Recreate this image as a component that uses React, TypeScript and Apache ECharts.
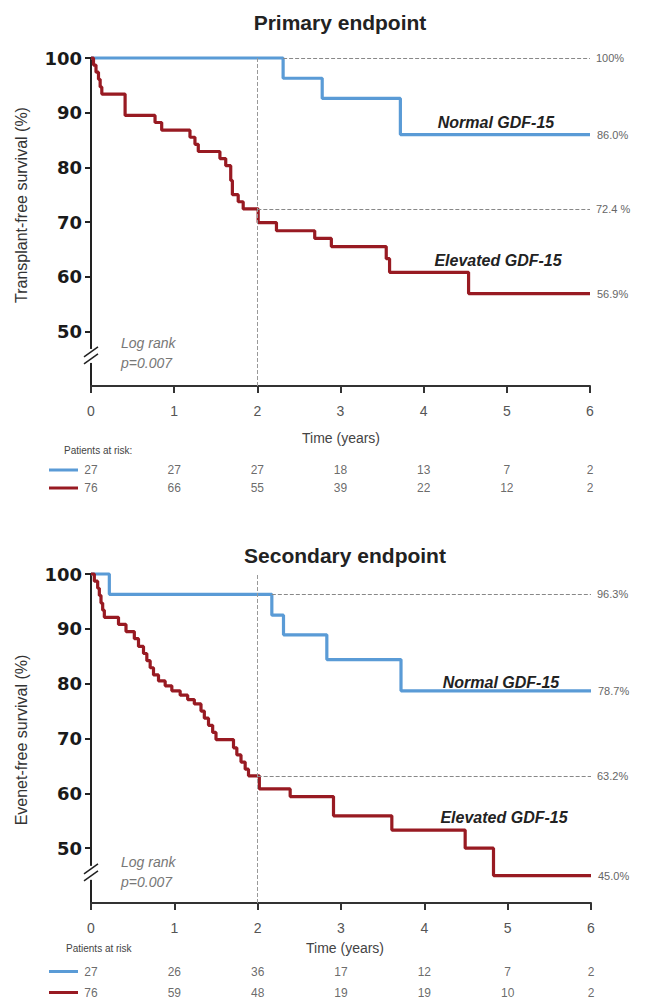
import React, { useEffect, useRef } from "react";
import * as echarts from "echarts";

const FONT = "Liberation Sans, Arial, sans-serif";
const BLUE = "#5a9bd6";
const RED = "#981a22";

const TIME_TICKS = [0, 1, 2, 3, 4, 5, 6];
const Y_TICKS = [50, 60, 70, 80, 90, 100];

// Primary endpoint (Kaplan-Meier steps: [years, survival %])
const PRIMARY_NORMAL: [number, number][] = [
  [0, 100], [2.31, 96.3], [2.78, 92.6], [3.72, 86.0], [6, 86.0],
];
const PRIMARY_ELEVATED: [number, number][] = [
  [0, 100], [0.03, 98.7], [0.06, 97.4], [0.09, 96.1], [0.11, 94.7], [0.13, 93.4],
  [0.41, 89.5], [0.77, 88.2], [0.85, 86.8], [1.19, 85.5], [1.25, 84.2], [1.29, 82.9],
  [1.55, 81.6], [1.62, 80.3], [1.68, 77.6], [1.70, 75.0], [1.77, 73.7], [1.83, 72.4],
  [2.01, 69.9], [2.23, 68.4], [2.69, 67.0], [2.89, 65.5], [3.55, 63.3], [3.59, 60.8],
  [4.54, 56.9], [6, 56.9],
];
// Secondary endpoint
const SECONDARY_NORMAL: [number, number][] = [
  [0, 100], [0.22, 96.3], [2.17, 92.5], [2.31, 88.9], [2.83, 84.4], [3.72, 78.7], [6, 78.7],
];
const SECONDARY_ELEVATED: [number, number][] = [
  [0, 100], [0.04, 98.7], [0.08, 97.4], [0.10, 96.1], [0.12, 94.7], [0.14, 93.4], [0.16, 92.1],
  [0.33, 90.8], [0.42, 89.5], [0.52, 88.2], [0.57, 86.8], [0.63, 85.5], [0.67, 84.2],
  [0.71, 82.9], [0.75, 81.6], [0.81, 80.5], [0.89, 79.6], [0.97, 78.7], [1.07, 77.9],
  [1.16, 77.1], [1.24, 76.3], [1.32, 75.0], [1.36, 73.7], [1.41, 72.4], [1.46, 71.1],
  [1.50, 69.8], [1.71, 68.3], [1.75, 67.0], [1.80, 65.7], [1.85, 64.4], [1.89, 63.2],
  [2.02, 60.8], [2.39, 59.4], [2.91, 55.9], [3.61, 53.3], [4.49, 50.0], [4.83, 45.0], [6, 45.0],
];

// Patients at risk
const RISK_PRIMARY_NORMAL = [27, 27, 27, 18, 13, 7, 2];
const RISK_PRIMARY_ELEVATED = [76, 66, 55, 39, 22, 12, 2];
const RISK_SECONDARY_NORMAL = [27, 26, 36, 17, 12, 7, 2];
const RISK_SECONDARY_ELEVATED = [76, 59, 48, 19, 19, 10, 2];

// Reference lines / end labels
const P_REF = { normalStart: 2.31, normalVal: 100, normalLabel: "100%", elevVal: 72.4, elevLabel: "72.4 %", normalEnd: "86.0%", elevEnd: "56.9%" };
const S_REF = { normalStart: 2.17, normalVal: 96.3, normalLabel: "96.3%", elevVal: 63.2, elevLabel: "63.2%", normalEnd: "78.7%", elevEnd: "45.0%" };

function mainX(gi: number) {
  return {
    gridIndex: gi, type: "value", min: 0, max: 6, interval: 1,
    axisLine: { lineStyle: { color: "#333", width: 2 } },
    axisTick: { length: 7, lineStyle: { color: "#333", width: 2 } },
    axisLabel: { margin: 18, fontSize: 14, color: "#555", fontFamily: FONT },
    splitLine: { show: false },
  };
}
function mainY(gi: number) {
  return {
    gridIndex: gi, type: "value", min: 40, max: 100, interval: 10,
    axisLine: { show: true, lineStyle: { color: "#222", width: 2 } },
    axisTick: { show: true, length: 6, customValues: Y_TICKS, lineStyle: { color: "#222", width: 2 } },
    axisLabel: { customValues: Y_TICKS, fontSize: 18, fontWeight: "bold", fontFamily: "DejaVu Sans", color: "#1a1a1a", margin: 9 },
    splitLine: { show: false },
  };
}

function kmSeries(gi: number, data: [number, number][], color: string, endText: string, mark: any) {
  return {
    type: "line", xAxisIndex: gi, yAxisIndex: gi, step: "end", data,
    symbol: "none", showSymbol: false, clip: false,
    lineStyle: { color, width: 3.2 }, itemStyle: { color },
    endLabel: { show: true, formatter: endText, color: "#666", fontSize: 11, fontFamily: FONT, distance: 7 },
    markLine: mark, z: 3,
  };
}

function refMark(from: [number, number], label: string, withVertical: boolean) {
  const data: any[] = [[
    { coord: from, label: { show: true, formatter: label, position: "end", color: "#666", fontSize: 11, fontFamily: FONT, distance: 6 } },
    { coord: [6, from[1]] },
  ]];
  if (withVertical) {
    data.push([
      { coord: [2, 40], label: { show: false }, lineStyle: { color: "#999", type: "dashed", width: 1 } },
      { coord: [2, 100] },
    ]);
  }
  return {
    silent: true, symbol: "none", animation: false,
    lineStyle: { type: "dashed", color: "#888", width: 1 },
    data,
  };
}

function riskSeries(gi: number, row: number, values: number[]) {
  return {
    type: "scatter", xAxisIndex: gi, yAxisIndex: gi, symbolSize: 1,
    itemStyle: { color: "rgba(0,0,0,0)" },
    data: TIME_TICKS.map((t, i) => [t, row, values[i]]),
    label: { show: true, position: "inside", formatter: (p: any) => String(p.value[2]), color: "#444", fontSize: 12, fontFamily: FONT },
  };
}

export default function App() {
  const ref = useRef<HTMLDivElement>(null);
  useEffect(() => {
    const chart = echarts.init(ref.current!, null, { renderer: "svg" });
    const option: any = {
      animation: false,
      backgroundColor: "#fff",
      grid: [
        { left: 91, width: 499, top: 58, height: 328 },
        { left: 91, width: 500, top: 574, height: 329 },
        { left: 91, width: 499, top: 461, height: 36 },
        { left: 91, width: 500, top: 961, height: 42 },
      ],
      xAxis: [
        mainX(0), mainX(1),
        { gridIndex: 2, type: "value", min: 0, max: 6, show: false },
        { gridIndex: 3, type: "value", min: 0, max: 6, show: false },
      ],
      yAxis: [
        mainY(0), mainY(1),
        { gridIndex: 2, type: "category", data: ["normal", "elevated"], inverse: true, show: false },
        { gridIndex: 3, type: "category", data: ["normal", "elevated"], inverse: true, show: false },
      ],
      series: [
        kmSeries(0, PRIMARY_NORMAL, BLUE, P_REF.normalEnd, refMark([P_REF.normalStart, P_REF.normalVal], P_REF.normalLabel, true)),
        kmSeries(0, PRIMARY_ELEVATED, RED, P_REF.elevEnd, refMark([2, P_REF.elevVal], P_REF.elevLabel, false)),
        kmSeries(1, SECONDARY_NORMAL, BLUE, S_REF.normalEnd, refMark([S_REF.normalStart, S_REF.normalVal], S_REF.normalLabel, true)),
        kmSeries(1, SECONDARY_ELEVATED, RED, S_REF.elevEnd, refMark([2, S_REF.elevVal], S_REF.elevLabel, false)),
        riskSeries(2, 0, RISK_PRIMARY_NORMAL),
        riskSeries(2, 1, RISK_PRIMARY_ELEVATED),
        riskSeries(3, 0, RISK_SECONDARY_NORMAL),
        riskSeries(3, 1, RISK_SECONDARY_ELEVATED),
      ],
    };
    chart.setOption(option);

    const graphics: any[] = [];
    const txt = (text: string, x: number, y: number, style: any, extra: any = {}) =>
      graphics.push({ type: "text", x, y, ...extra, style: { text, fontFamily: FONT, align: "center", verticalAlign: "middle", ...style } });

    // Titles
    txt("Primary endpoint", 340, 22, { fontSize: 21, fontWeight: "bold", fill: "#222" });
    txt("Secondary endpoint", 345, 555, { fontSize: 21, fontWeight: "bold", fill: "#222" });
    // Axis names
    txt("Transplant-free survival (%)", 21, 205, { fontSize: 16, fill: "#333" }, { rotation: Math.PI / 2 });
    txt("Evenet-free survival (%)", 21, 740, { fontSize: 16, fill: "#333" }, { rotation: Math.PI / 2 });
    txt("Time (years)", 341, 438, { fontSize: 14, fill: "#444" });
    txt("Time (years)", 345, 948, { fontSize: 14, fill: "#444" });
    // Group labels
    const groupStyle = { fontSize: 16, fontWeight: "bold", fontStyle: "italic", fill: "#222" };
    txt("Normal GDF-15", 496, 122, groupStyle);
    txt("Elevated GDF-15", 498, 260, groupStyle);
    txt("Normal GDF-15", 501, 682, groupStyle);
    txt("Elevated GDF-15", 504, 817, groupStyle);
    // Log rank
    const lrStyle = { fontSize: 14, fontStyle: "italic", fill: "#777", align: "left" };
    txt("Log rank", 121, 343, lrStyle);
    txt("p=0.007", 121, 363, lrStyle);
    txt("Log rank", 121, 862, lrStyle);
    txt("p=0.007", 121, 882, lrStyle);
    // Patients at risk
    txt("Patients at risk:", 64, 450, { fontSize: 10, fill: "#444", align: "left" });
    txt("Patients at risk", 66, 948, { fontSize: 10, fill: "#444", align: "left" });

    // Risk table swatches, aligned to the risk rows
    [[2, 0, BLUE], [2, 1, RED], [3, 0, BLUE], [3, 1, RED]].forEach(([gi, row, col]: any) => {
      const p = chart.convertToPixel({ gridIndex: gi }, [0, row]) as number[];
      graphics.push({ type: "rect", shape: { x: 49, y: p[1] - 1.5, width: 29, height: 3 }, style: { fill: col } });
    });

    // Axis breaks
    [0, 1].forEach((gi) => {
      const p = chart.convertToPixel({ gridIndex: gi }, [0, 45.5]) as number[];
      const x = p[0], y = p[1];
      graphics.push({ type: "rect", shape: { x: x - 4, y: y - 7, width: 8, height: 14 }, style: { fill: "#fff" }, z: 50 });
      graphics.push({ type: "line", shape: { x1: x - 7, y1: y + 1, x2: x + 7, y2: y - 9 }, style: { stroke: "#222", lineWidth: 1.5 }, z: 51 });
      graphics.push({ type: "line", shape: { x1: x - 7, y1: y + 8, x2: x + 7, y2: y - 2 }, style: { stroke: "#222", lineWidth: 1.5 }, z: 51 });
    });

    chart.setOption({ graphic: graphics });
    return () => chart.dispose();
  }, []);
  return <div ref={ref} style={{ position: "absolute", left: 0, top: 0, width: 645, height: 1005, background: "#fff" }} />;
}
